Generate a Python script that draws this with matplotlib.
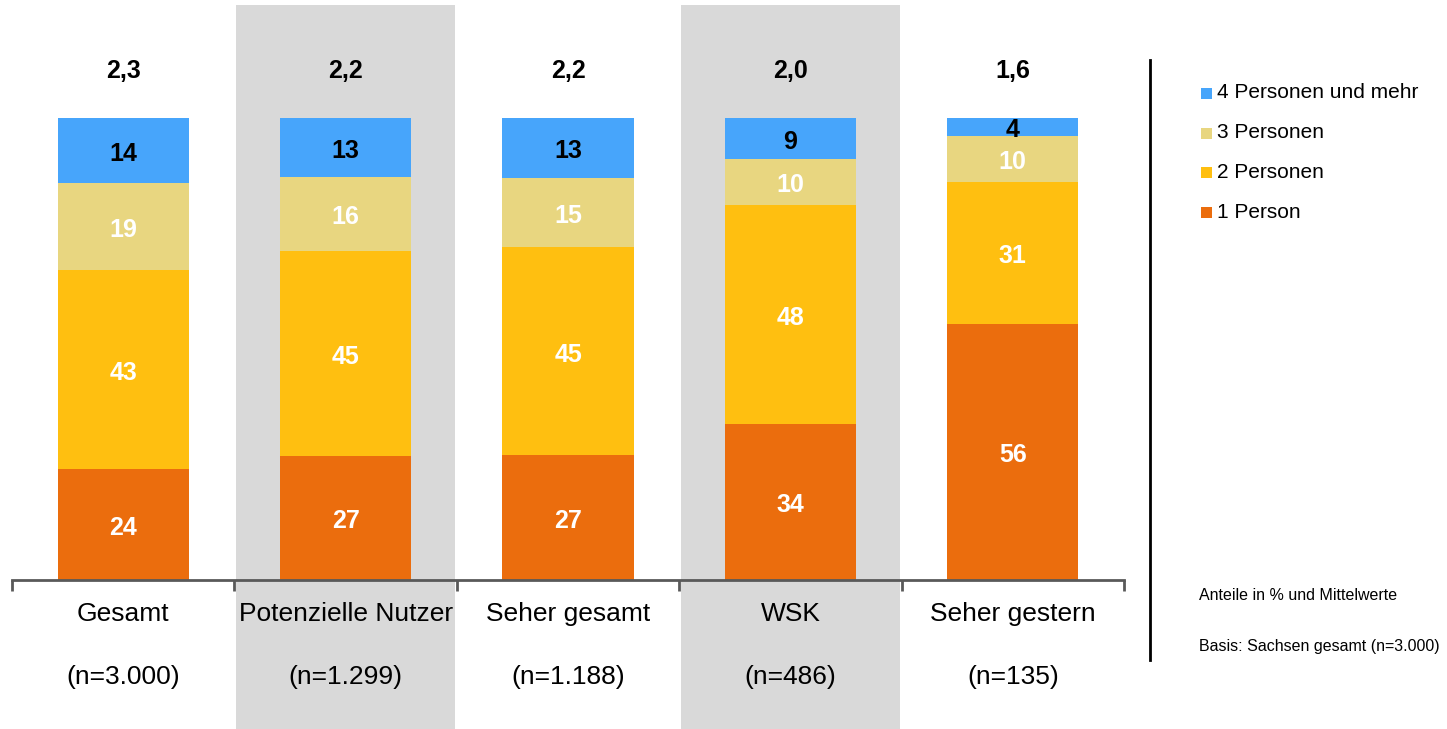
import numpy as np
import matplotlib.pyplot as plt
from matplotlib.patches import Rectangle

plt.rcParams['font.family'] = ['Liberation Sans', 'DejaVu Sans']

# data
groups = ["Gesamt", "Potenzielle Nutzer", "Seher gesamt", "WSK", "Seher gestern"]
n_labels = ["(n=3.000)", "(n=1.299)", "(n=1.188)", "(n=486)", "(n=135)"]
means = ["2,3", "2,2", "2,2", "2,0", "1,6"]
series = ["1 Person", "2 Personen", "3 Personen", "4 Personen und mehr"]
p1 = [24, 27, 27, 34, 56]
p2 = [43, 45, 45, 48, 31]
p3 = [19, 16, 15, 10, 10]
p4 = [14, 13, 13, 9, 4]
colors = ["#EB6D0D", "#FFBF10", "#E8D680", "#47A5FB"]
text_colors = ["white", "white", "white", "black"]
shaded = [1, 3]

values = np.array([p1, p2, p3, p4], dtype=float)
totals = values.sum(axis=0)
shares = values / totals * 100  # bars are scaled to 100 %

W, H = 1447, 729
fig = plt.figure(figsize=(W / 100, H / 100), dpi=100)
ax_left, ax_right = 12, 1124
ax_bottom, ax_top = 580, 5
ax = fig.add_axes([ax_left / W, 1 - ax_bottom / H,
                   (ax_right - ax_left) / W, (ax_bottom - ax_top) / H])
px_per_unit = 462 / 100
ytop = (ax_bottom - ax_top) / px_per_unit
ax.set_xlim(-0.5, len(groups) - 0.5)
ax.set_ylim(0, ytop)

# grey background bands
band_bottom = -(H - ax_bottom) / (ax_bottom - ax_top)
for i in shaded:
    ax.axvspan(i - 0.493, i + 0.493, ymin=band_bottom, ymax=1,
               color="#D9D9D9", lw=0, clip_on=False, zorder=0)

x = np.arange(len(groups))
bottom = np.zeros(len(groups))
for k in range(len(series)):
    ax.bar(x, shares[k], 0.59, bottom=bottom, color=colors[k], zorder=2)
    for i in range(len(groups)):
        ax.text(x[i], bottom[i] + shares[k][i] / 2 - 0.7, "%d" % values[k][i],
                ha="center", va="center", color=text_colors[k],
                fontsize=18, fontweight="bold", zorder=3)
    bottom += shares[k]

for i in range(len(groups)):
    ax.text(x[i], 100 + 47 / px_per_unit, means[i], ha="center", va="center",
            fontsize=18, fontweight="bold", color="black")

# axis styling
for s in ["top", "right", "left"]:
    ax.spines[s].set_visible(False)
ax.spines["bottom"].set_color("#595959")
ax.spines["bottom"].set_linewidth(2)
ax.set_yticks([])
ax.set_xticks(np.arange(-0.5, len(groups)))
ax.set_xticklabels([])
ax.tick_params(axis="x", direction="out", length=8, width=2, color="#595959")
ax.patch.set_alpha(0)

for i in range(len(groups)):
    ax.text(x[i], -(614 - ax_bottom) / px_per_unit, groups[i], ha="center",
            va="center", fontsize=19, clip_on=False)
    ax.text(x[i], -(677 - ax_bottom) / px_per_unit, n_labels[i], ha="center",
            va="center", fontsize=19, clip_on=False)

# separator line
fig.add_artist(plt.Line2D([1150 / W, 1150 / W], [1 - 60 / H, 1 - 660 / H],
                          color="black", lw=2))

# legend
legend_y = [212, 172, 133, 93]
for k in range(len(series)):
    y = legend_y[k]
    fig.add_artist(Rectangle((1201 / W, 1 - (y + 6) / H), 11 / W, 11 / H,
                             transform=fig.transFigure, color=colors[k], lw=0))
    fig.text(1217 / W, 1 - y / H, series[k], ha="left", va="center", fontsize=15)

fig.text(1199 / W, 1 - 595 / H, "Anteile in % und Mittelwerte", ha="left",
         va="center", fontsize=11.5)
fig.text(1199 / W, 1 - 646 / H, "Basis: Sachsen gesamt (n=3.000)", ha="left",
         va="center", fontsize=11.5)

fig.savefig("out.png", dpi=100)
